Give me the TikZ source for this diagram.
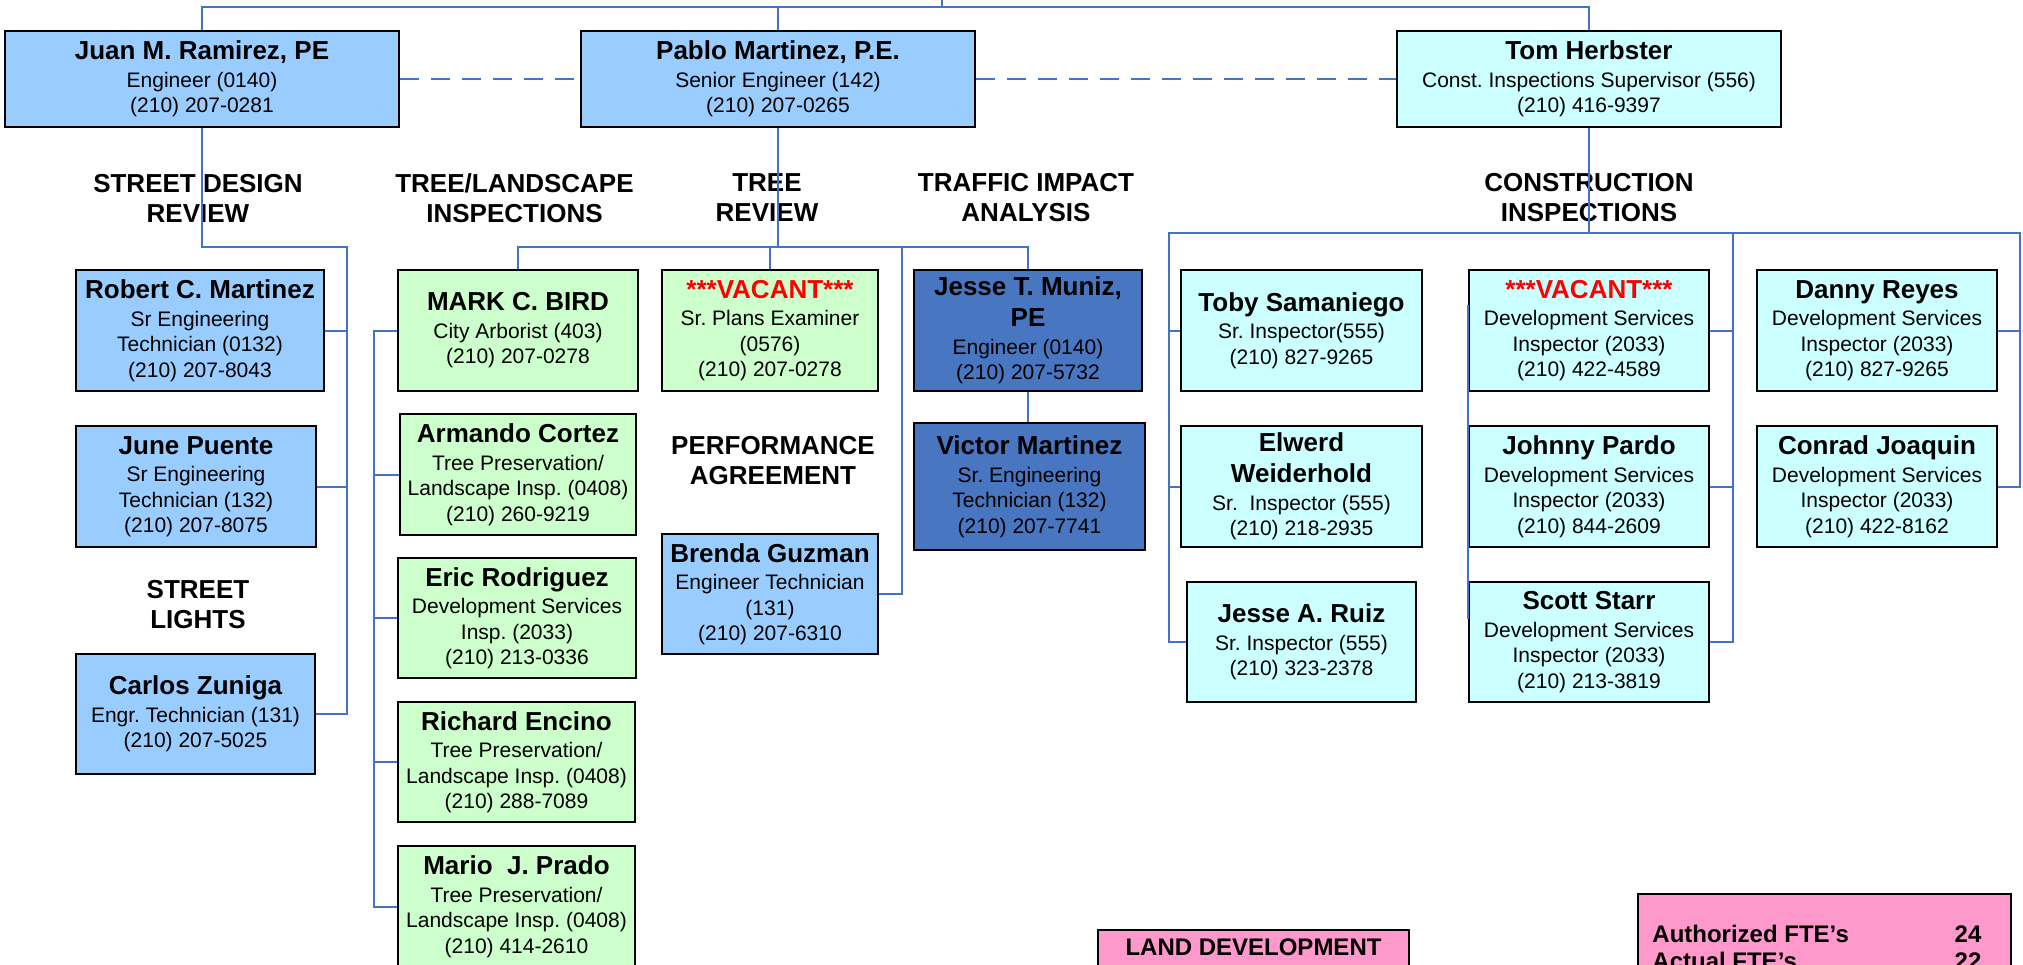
\documentclass[tikz,border=0pt]{standalone}
\usepackage{fontspec}
\setmainfont{Liberation Sans}
\usetikzlibrary{calc}
\definecolor{lblue}{HTML}{99CCFF}
\definecolor{lgreen}{HTML}{CCFFCC}
\definecolor{lcyan}{HTML}{CCFFFF}
\definecolor{dblue}{RGB}{72,118,192}
\definecolor{lpink}{HTML}{FF99CC}
\definecolor{linecol}{HTML}{4472C4}
\definecolor{vred}{HTML}{FF0000}
\newcommand\subfnt{\fontsize{10.5}{12.75}\selectfont}
\newcommand\nm[1]{{\fontsize{13}{15.5}\selectfont\bfseries #1}}
\newcommand\vac{\nm{\textcolor{vred}{***VACANT***}}}
\tikzset{
  box/.style={draw=black, line width=1.1pt, inner sep=0pt, align=center, font=\subfnt},
  sz/.style n args={2}{minimum width=#1, minimum height=#2},
  conn/.style={draw=linecol, line width=1pt},
  lab/.style={font=\fontsize{13}{15}\selectfont\bfseries, align=center, inner sep=0pt},
  pinkbox/.style={draw=black, line width=1.1pt, fill=lpink, inner sep=0pt}
}
\begin{document}
\frenchspacing
\begin{tikzpicture}[x=0.5pt, y=-0.5pt]
\useasboundingbox (0,0) rectangle (2023,964);

% section labels
\node[lab] (l1) at (198,198) {STREET DESIGN\\REVIEW};
\node[lab] (l2) at (514.5,198) {TREE/LANDSCAPE\\INSPECTIONS};
\node[lab] (l3) at (767,198) {TREE\\REVIEW};
\node[lab] (l4) at (1026,198) {TRAFFIC IMPACT\\ANALYSIS};
\node[lab] (l5) at (1589,198) {CONSTRUCTION\\INSPECTIONS};
\node[lab] (l6) at (773,461) {PERFORMANCE\\AGREEMENT};
\node[lab] (l7) at (198,605) {STREET\\LIGHTS};

% top row
\node[box, fill=lblue, sz={197pt}{48pt}] (juan) at (202,79) {\nm{Juan M. Ramirez, PE}\\[1pt] Engineer (0140)\\ (210) 207-0281};
\node[box, fill=lblue, sz={197pt}{48pt}] (pablo) at (778,79) {\nm{Pablo Martinez, P.E.}\\[1pt] Senior Engineer (142)\\ (210) 207-0265};
\node[box, fill=lcyan, sz={192pt}{48pt}] (tom) at (1589,79) {\nm{Tom Herbster}\\[1pt] Const. Inspections Supervisor (556)\\ (210) 416-9397};

% street design column
\node[box, fill=lblue, sz={124pt}{60.5pt}] (robert) at (200,330.5) {\nm{Robert C. Martinez}\\[1pt] Sr Engineering\\ Technician (0132)\\ (210) 207-8043};
\node[box, fill=lblue, sz={120pt}{60.5pt}] (june) at (196,486.5) {\nm{June Puente}\\[1pt] Sr Engineering\\ Technician (132)\\ (210) 207-8075};
\node[box, fill=lblue, sz={119.5pt}{60pt}] (carlos) at (195.5,714) {\nm{Carlos Zuniga}\\[1pt] Engr. Technician (131)\\ (210) 207-5025};

% tree / landscape column
\node[box, fill=lgreen, sz={120pt}{60.5pt}] (mark) at (518,330.5) {\nm{MARK C. BIRD}\\[1pt] City Arborist (403)\\ (210) 207-0278};
\node[box, fill=lgreen, sz={118pt}{60.5pt}] (armando) at (518,474.5) {\nm{Armando Cortez}\\[1pt] Tree Preservation/\\ Landscape Insp. (0408)\\ (210) 260-9219};
\node[box, fill=lgreen, sz={119pt}{60pt}] (eric) at (517,618) {\nm{Eric Rodriguez}\\[1pt] Development Services\\ Insp. (2033)\\ (210) 213-0336};
\node[box, fill=lgreen, sz={118.5pt}{60pt}] (richard) at (516.5,762) {\nm{Richard Encino}\\[1pt] Tree Preservation/\\ Landscape Insp. (0408)\\ (210) 288-7089};
\node[box, fill=lgreen, sz={118.5pt}{60.5pt}] (mario) at (516.5,906.5) {\nm{Mario~ J. Prado}\\[1pt] Tree Preservation/\\ Landscape Insp. (0408)\\ (210) 414-2610};

% tree review / performance column
\node[box, fill=lgreen, sz={108pt}{60.5pt}] (vac1) at (770,330.5) {\vac\\[1pt] Sr. Plans Examiner\\ (0576)\\ (210) 207-0278};
\node[box, fill=lblue, sz={108pt}{60pt}] (brenda) at (770,594) {\nm{Brenda Guzman}\\[1pt] Engineer Technician\\ (131)\\ (210) 207-6310};

% traffic column
\node[box, fill=dblue, sz={114pt}{60.5pt}] (jm) at (1028,330.5) {\nm{Jesse T. Muniz,}\\[2.75pt] \nm{PE}\\[1pt] Engineer (0140)\\ (210) 207-5732};
\node[box, fill=dblue, sz={115.5pt}{63.5pt}] (vm) at (1029.5,486.5) {\nm{Victor Martinez}\\[1pt] Sr. Engineering\\ Technician (132)\\ (210) 207-7741};

% construction inspections
\node[box, fill=lcyan, sz={120.5pt}{60.5pt}] (toby) at (1301.5,330.5) {\nm{Toby Samaniego}\\[1pt] Sr. Inspector(555)\\ (210) 827-9265};
\node[box, fill=lcyan, sz={120.5pt}{60.5pt}] (elwerd) at (1301.5,486.5) {\nm{Elwerd}\\[2.75pt] \nm{Weiderhold}\\[1pt] Sr.~ Inspector (555)\\ (210) 218-2935};
\node[box, fill=lcyan, sz={114.5pt}{60pt}] (jr) at (1301.5,642) {\nm{Jesse A. Ruiz}\\[1pt] Sr. Inspector (555)\\ (210) 323-2378};
\node[box, fill=lcyan, sz={120pt}{60.5pt}] (vac2) at (1589,330.5) {\vac\\[1pt] Development Services\\ Inspector (2033)\\ (210) 422-4589};
\node[box, fill=lcyan, sz={120pt}{60.5pt}] (johnny) at (1589,486.5) {\nm{Johnny Pardo}\\[1pt] Development Services\\ Inspector (2033)\\ (210) 844-2609};
\node[box, fill=lcyan, sz={120pt}{60pt}] (scott) at (1589,642) {\nm{Scott Starr}\\[1pt] Development Services\\ Inspector (2033)\\ (210) 213-3819};
\node[box, fill=lcyan, sz={120pt}{60.5pt}] (danny) at (1877,330.5) {\nm{Danny Reyes}\\[1pt] Development Services\\ Inspector (2033)\\ (210) 827-9265};
\node[box, fill=lcyan, sz={120pt}{60.5pt}] (conrad) at (1877,486.5) {\nm{Conrad Joaquin}\\[1pt] Development Services\\ Inspector (2033)\\ (210) 422-8162};

% bottom boxes
\node[pinkbox, anchor=north, minimum width=155.5pt, inner ysep=4.25pt, text height=8.6pt, text depth=25pt, font=\fontsize{12}{14}\selectfont\bfseries] (land) at (1253.5,929) {LAND DEVELOPMENT};
\node[pinkbox, anchor=north west, minimum width=186.5pt, minimum height=45pt] (fte) at (1637,893) {};
\node[anchor=north west, inner sep=0pt, align=left, font=\fontsize{12}{13.5}\selectfont\bfseries] (ftetxt) at ([xshift=7.5pt, yshift=-15.7pt]fte.north west)
  {\makebox[164.5pt]{Authorized FTE’s\hfill 24}\\ \makebox[164.5pt]{Actual FTE’s\hfill 22}};

% coordinates
\coordinate (topin) at (942,0);
\coordinate (tl) at (202,7);
\coordinate (tr) at (1589,7);
\coordinate (jb) at (347,247);
\coordinate (pb) at (778,247);
\coordinate (pb2) at (902,247);
\coordinate (mbx) at (374,0);
\coordinate (tb) at (1589,233);
\coordinate (tl2) at (1169,233);
\coordinate (tm2) at (1733,233);
\coordinate (tr2) at (2020,233);

% top connectors
\draw[conn] (topin) -- (topin |- tl);
\draw[conn] (juan.north) -- (juan.north |- tl) -- (tr) -- (tom.north);
\draw[conn] (pablo.north) -- (pablo.north |- tl);
\draw[conn, dash pattern=on 9.5pt off 6pt] (juan.east) -- (pablo.west);
\draw[conn, dash pattern=on 9.5pt off 6pt] (pablo.east) -- (tom.west);

% Juan branch
\draw[conn] (juan.south) |- (jb) |- (carlos.east);
\draw[conn] (robert.east) -- (robert.east -| jb);
\draw[conn] (june.east) -- (june.east -| jb);

% Pablo branch
\draw[conn] (pablo.south) -- (pb);
\draw[conn] (mark.north) -- (mark.north |- pb) -- (jm.north |- pb) -- (jm.north);
\draw[conn] (vac1.north) -- (vac1.north |- pb);
\draw[conn] (pb2) |- (brenda.east);
\draw[conn] (jm.south) -- (jm.south |- vm.north);
\draw[conn] (mark.west) -- (mark.west -| mbx) |- (mario.west);
\draw[conn] (armando.west) -- (armando.west -| mbx);
\draw[conn] (eric.west) -- (eric.west -| mbx);
\draw[conn] (richard.west) -- (richard.west -| mbx);

% Tom branch
\draw[conn] (tom.south) -- (tb);
\draw[conn] (jr.west) -| (tl2) -- (tr2) |- (conrad.east);
\draw[conn] (tm2) |- (scott.east);
\draw[conn] (toby.west) -- (toby.west -| tl2);
\draw[conn] (elwerd.west) -- (elwerd.west -| tl2);
\draw[conn] (vac2.east) -- (vac2.east -| tm2);
\draw[conn] (johnny.east) -- (johnny.east -| tm2);
\draw[conn] (danny.east) -- (danny.east -| tr2);
\draw[conn] ([yshift=12.75pt]vac2.west) -- ([yshift=11.75pt]scott.west);
\end{tikzpicture}
\end{document}
